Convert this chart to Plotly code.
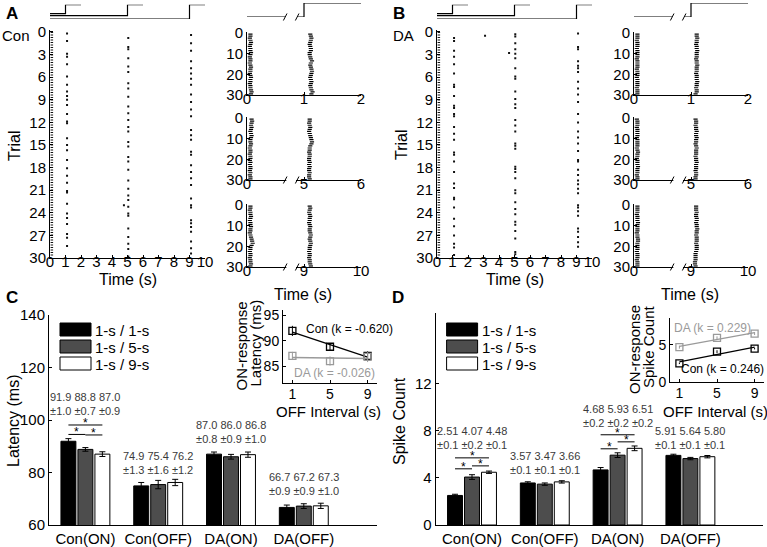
import numpy as np
import plotly.graph_objects as go

W, H = 767, 547
INK = "#000000"
DOT = "#111111"
DA_GRAY = "#9a9a9a"
TEXT_GRAY = "#3a3a3a"
BAR_COLORS = ["#000000", "#4d4d4d", "#ffffff"]
FONT = "Liberation Sans, Arial, sans-serif"

# ---------------- data ----------------
INTERVALS = [1, 5, 9]
N_TRIALS = 30
TRIALS = list(range(N_TRIALS))

# full-length rasters: time of the sparse ON columns and the trials they hit
MAIN_ON_T = [1.1, 5.05, 9.1]
MAIN_OFF_T = 0.12
CON_1S_TRIALS = [0.2, 1.2, 2.9, 3.3, 4.3, 5.9, 7.0, 7.9, 8.5, 9.0, 9.7, 10.9, 11.9, 12.1, 14.1,
                 15.0, 15.7, 17.0, 18.1, 19.1, 20.0, 21.1, 21.3, 22.8, 24.1, 24.7, 25.5, 26.8, 27.3, 28.4]
CON_5S_TRIALS = [0.8, 2.0, 2.3, 3.5, 4.6, 5.3, 6.8, 7.5, 8.6, 9.9, 10.8, 11.7, 12.6, 13.2, 14.6, 15.2,
                 16.6, 17.2, 18.3, 19.7, 20.8, 21.7, 22.3, 23.2, 24.1, 24.4, 26.1, 27.2, 28.1, 28.8, 29.8]
CON_9S_TRIALS = [0.4, 1.5, 2.5, 3.9, 4.8, 5.5, 6.2, 7.0, 8.3, 9.3, 10.3, 11.2, 13.0, 13.7, 14.3, 15.9,
                 16.3, 17.7, 18.6, 19.4, 20.3, 22.1, 23.0, 23.3, 25.0, 25.4, 25.9, 26.5, 27.8, 28.7, 29.4]
DA_1S_TRIALS = [0.8, 1.2, 2.5, 3.3, 4.3, 5.5, 7.0, 7.3, 8.5, 9.8, 10.1, 10.9, 11.2, 12.6, 13.5, 14.3,
                16.0, 16.3, 17.2, 18.6, 20.1, 20.7, 22.0, 22.2, 23.3, 24.8, 25.8, 27.0, 28.1, 28.6, 29.6]
DA_5S_TRIALS = [0.3, 0.6, 1.5, 2.3, 2.9, 3.5, 4.8, 5.9, 6.2, 7.9, 8.9, 9.6, 10.1, 11.7, 12.4, 13.2, 14.8,
                15.1, 15.5, 17.9, 18.2, 18.6, 19.4, 21.0, 21.4, 22.6, 23.5, 24.2, 25.2, 25.6, 26.4, 27.4,
                29.2, 29.5]
DA_9S_TRIALS = [0.2, 2.0, 2.3, 3.9, 4.5, 4.8, 5.3, 6.6, 7.5, 8.3, 9.3, 10.9, 12.0, 13.2, 14.0, 14.8,
                15.8, 17.0, 17.2, 18.3, 19.0, 19.7, 20.2, 20.8, 21.4, 23.0, 23.3, 23.8, 24.4, 26.1, 26.5,
                27.2, 27.9, 28.5]
CON_STRAY_T, CON_STRAY_TRIAL = [4.77], [23.0]
DA_STRAY_T, DA_STRAY_TRIAL = [3.1, 4.65], [0.5, 2.8]

# zoomed rasters (broken time axis 0..2): per-trial OFF and ON burst times
CON_OFF_1S = [0.06, 0.06, 0.05, 0.06, 0.07, 0.06, 0.05, 0.06, 0.06, 0.07, 0.06, 0.05, 0.06, 0.06, 0.05,
              0.06, 0.07, 0.06, 0.06, 0.05, 0.06, 0.07, 0.06, 0.06, 0.05, 0.06, 0.06, 0.07, 0.08, 0.07]
CON_ON_1S = [1.11, 1.12, 1.13, 1.12, 1.11, 1.10, 1.11, 1.12, 1.12, 1.10, 1.10, 1.11, 1.12, 1.14, 1.12,
             1.11, 1.12, 1.13, 1.14, 1.13, 1.12, 1.11, 1.12, 1.13, 1.12, 1.11, 1.12, 1.13, 1.15, 1.13]
CON_OFF_5S = [0.08, 0.09, 0.08, 0.07, 0.08, 0.07, 0.06, 0.07, 0.08, 0.07, 0.06, 0.06, 0.07, 0.06, 0.05,
              0.06, 0.06, 0.05, 0.06, 0.06, 0.05, 0.06, 0.05, 0.06, 0.06, 0.05, 0.06, 0.05, 0.06, 0.06]
CON_ON_5S = [1.10, 1.10, 1.09, 1.10, 1.11, 1.10, 1.09, 1.10, 1.11, 1.12, 1.13, 1.14, 1.13, 1.11, 1.10,
             1.10, 1.09, 1.10, 1.10, 1.09, 1.09, 1.10, 1.09, 1.10, 1.09, 1.09, 1.10, 1.09, 1.09, 1.10]
CON_OFF_9S = [0.06, 0.06, 0.05, 0.06, 0.06, 0.07, 0.06, 0.05, 0.06, 0.06, 0.07, 0.06, 0.06, 0.05, 0.06,
              0.07, 0.08, 0.09, 0.10, 0.08, 0.06, 0.06, 0.05, 0.06, 0.06, 0.05, 0.06, 0.06, 0.07, 0.06]
CON_ON_9S = [1.10, 1.11, 1.10, 1.09, 1.10, 1.11, 1.10, 1.10, 1.09, 1.10, 1.11, 1.10, 1.10, 1.11, 1.12,
             1.11, 1.10, 1.11, 1.12, 1.11, 1.10, 1.10, 1.09, 1.10, 1.10, 1.09, 1.10, 1.10, 1.11, 1.12]
DA_OFF_1S = [0.06, 0.06, 0.06, 0.05, 0.06, 0.06, 0.06, 0.05, 0.06, 0.06, 0.06, 0.06, 0.05, 0.06, 0.06,
             0.06, 0.06, 0.05, 0.06, 0.06, 0.06, 0.05, 0.06, 0.06, 0.06, 0.06, 0.05, 0.06, 0.06, 0.06]
DA_ON_1S = [1.10, 1.10, 1.11, 1.10, 1.10, 1.09, 1.10, 1.10, 1.11, 1.10, 1.10, 1.10, 1.09, 1.10, 1.10,
            1.11, 1.10, 1.10, 1.10, 1.09, 1.10, 1.10, 1.10, 1.11, 1.10, 1.10, 1.09, 1.10, 1.10, 1.08]
DA_OFF_5S = [0.05, 0.06, 0.06, 0.06, 0.05, 0.06, 0.06, 0.06, 0.06, 0.05, 0.06, 0.06, 0.06, 0.06, 0.05,
             0.06, 0.07, 0.06, 0.06, 0.05, 0.06, 0.06, 0.06, 0.07, 0.06, 0.06, 0.06, 0.05, 0.06, 0.06]
DA_ON_5S = [1.08, 1.09, 1.09, 1.08, 1.09, 1.09, 1.10, 1.09, 1.09, 1.10, 1.09, 1.09, 1.08, 1.09, 1.10,
            1.09, 1.09, 1.09, 1.08, 1.09, 1.09, 1.10, 1.09, 1.09, 1.09, 1.08, 1.09, 1.09, 1.08, 1.08]
DA_OFF_9S = [0.06, 0.06, 0.06, 0.06, 0.05, 0.06, 0.06, 0.06, 0.07, 0.06, 0.06, 0.06, 0.06, 0.05, 0.06,
             0.06, 0.07, 0.07, 0.06, 0.06, 0.06, 0.06, 0.05, 0.06, 0.06, 0.06, 0.05, 0.06, 0.06, 0.06]
DA_ON_9S = [1.09, 1.09, 1.09, 1.10, 1.09, 1.09, 1.10, 1.10, 1.09, 1.10, 1.10, 1.11, 1.10, 1.10, 1.09,
            1.10, 1.10, 1.10, 1.09, 1.10, 1.10, 1.10, 1.09, 1.08, 1.08, 1.08, 1.08, 1.07, 1.07, 1.08]
SMALL_TICKTEXT = [["0", "1", "2"], ["0", "5", "6"], ["0", "9", "10"]]

# bar charts
GROUPS = ["Con(ON)", "Con(OFF)", "DA(ON)", "DA(OFF)"]
SERIES = ["1-s / 1-s", "1-s / 5-s", "1-s / 9-s"]
LAT_1S = [91.9, 74.9, 87.0, 66.7]
LAT_5S = [88.8, 75.4, 86.0, 67.2]
LAT_9S = [87.0, 76.2, 86.8, 67.3]
LAT_ERR_1S = [1.0, 1.3, 0.8, 0.9]
LAT_ERR_5S = [0.7, 1.6, 0.9, 0.9]
LAT_ERR_9S = [0.9, 1.2, 1.0, 1.0]
CNT_1S = [2.51, 3.57, 4.68, 5.91]
CNT_5S = [4.07, 3.47, 5.93, 5.64]
CNT_9S = [4.48, 3.66, 6.51, 5.80]
CNT_ERR_1S = [0.1, 0.1, 0.2, 0.1]
CNT_ERR_5S = [0.2, 0.1, 0.2, 0.1]
CNT_ERR_9S = [0.1, 0.1, 0.2, 0.1]
# significance brackets: (group, bar a, bar b, height)
SIG_LAT = [(0, 0, 2, 98.1), (0, 0, 1, 94.5), (0, 1, 2, 94.3)]
SIG_CNT = [(0, 0, 2, 5.70), (0, 0, 1, 4.77), (0, 1, 2, 5.02),
           (2, 0, 2, 7.66), (2, 0, 1, 6.47), (2, 1, 2, 7.06)]
K_LAT = [-0.620, -0.026]   # Con, DA
K_CNT = [0.246, 0.229]

# ---------------- helpers ----------------
fig = go.Figure()
layout = {}
shapes = []
annots = []


def fx(p):
    return p / W


def fy(p):
    return 1 - p / H


def axes(n, xpx, ypx, xr, yr, xkw=None, ykw=None, size=15):
    s = "" if n == 1 else str(n)
    base = dict(showline=True, linecolor=INK, linewidth=1, ticks="inside", ticklen=3,
                tickcolor=INK, showgrid=False, zeroline=False,
                tickfont=dict(size=size, color=INK, family=FONT))
    xa = dict(base, domain=[fx(xpx[0]), fx(xpx[1])], range=xr, anchor="y" + s)
    ya = dict(base, domain=[fy(ypx[1]), fy(ypx[0])], range=yr, anchor="x" + s)
    xa.update(xkw or {})
    ya.update(ykw or {})
    layout["xaxis" + s] = xa
    layout["yaxis" + s] = ya
    return "x" + s, "y" + s


def text(x, y, t, size=15, color=INK, bold=False, angle=0, xanchor="center",
         xref="paper", yref="paper", yanchor="middle", **kw):
    if bold:
        t = "<b>" + t + "</b>"
    if xref == "paper":
        x = fx(x)
    if yref == "paper":
        y = fy(y)
    annots.append(dict(x=x, y=y, xref=xref, yref=yref, text=t, showarrow=False,
                       textangle=angle, xanchor=xanchor, yanchor=yanchor,
                       font=dict(size=size, color=color, family=FONT), **kw))


def line_px(x0, y0, x1, y1, color=INK, width=1):
    shapes.append(dict(type="line", xref="paper", yref="paper", x0=fx(x0), y0=fy(y0),
                       x1=fx(x1), y1=fy(y1), line=dict(color=color, width=width)))


def slash(xp, yp):
    line_px(xp - 1.8, yp + 3.5, xp + 1.8, yp - 3.5)


# ---------------- panels A / B ----------------
def raster_panel(dx, n0, letter, cond, main_trials, stray_t, stray_trial, small_off, small_on):
    # full raster
    xa, ya = axes(n0, (50 + dx, 205 + dx), (29.7, 258), [0, 10], [N_TRIALS, -0.3],
                  xkw=dict(tickvals=list(range(11)), ticklabelstandoff=-10),
                  ykw=dict(tickvals=list(range(0, 31, 3))))
    fig.add_trace(go.Scatter(x=[MAIN_OFF_T, MAIN_OFF_T], y=[0, N_TRIALS - 0.2], mode="lines",
                             line=dict(color=DOT, width=2.5, dash="1px,1.5px"),
                             xaxis=xa, yaxis=ya))
    for t, trials in zip(MAIN_ON_T, main_trials):
        fig.add_trace(go.Scatter(x=[t] * len(trials), y=trials, mode="markers",
                                 marker=dict(symbol="square", size=2, color=DOT, line_width=0),
                                 xaxis=xa, yaxis=ya))
    fig.add_trace(go.Scatter(x=stray_t, y=stray_trial, mode="markers",
                             marker=dict(symbol="square", size=2, color=DOT, line_width=0),
                             xaxis=xa, yaxis=ya))
    # stimulus traces over the full raster
    xs, ys = axes(n0 + 1, (50 + dx, 205 + dx), (4.7, 19), [0, 10], [0, 1],
                  xkw=dict(visible=False), ykw=dict(visible=False))
    for t, low in zip(INTERVALS, [0.37, 0.23, 0.0]):
        fig.add_trace(go.Scatter(x=[0, t, t, t + 1], y=[low, low, 1, 1], mode="lines",
                                 line=dict(color=INK, width=1.2), xaxis=xs, yaxis=ys))
    # zoomed rasters
    tops = [(32.4, 95), (117.4, 180), (204.4, 267)]
    for k in range(3):
        xa, ya = axes(n0 + 2 + k, (247 + dx, 361 + dx), tops[k], [0, 2], [N_TRIALS, -0.3],
                      xkw=dict(tickvals=[0, 1, 2], ticktext=SMALL_TICKTEXT[k], ticklabelstandoff=-10),
                      ykw=dict(tickvals=[0, 10, 20, 30]))
        y = [tr + 0.5 for tr in TRIALS]
        for xs_ in (small_off[k], small_on[k]):
            fig.add_trace(go.Scatter(x=xs_, y=y, mode="markers",
                                     marker=dict(symbol="line-ew", size=3,
                                                 line=dict(width=1.2, color=INK)),
                                     xaxis=xa, yaxis=ya))
        if k > 0:   # broken time axis
            ybase = tops[k][1]
            line_px(247 + dx + 0.69 * 57, ybase, 247 + dx + 0.86 * 57, ybase, color="#ffffff", width=3)
            slash(247 + dx + 0.67 * 57, ybase)
            slash(247 + dx + 0.88 * 57, ybase)
    # stimulus over zoomed rasters
    xs, ys = axes(n0 + 5, (247 + dx, 361 + dx), (3, 17), [0, 2], [0, 1],
                  xkw=dict(visible=False), ykw=dict(visible=False))
    fig.add_trace(go.Scatter(x=[0, 0.67, None, 0.88, 1, 1, 2], y=[0, 0, None, 0, 0, 1, 1],
                             mode="lines", line=dict(color=INK, width=1.2), xaxis=xs, yaxis=ys))
    slash(247 + dx + 0.67 * 57, 17)
    slash(247 + dx + 0.88 * 57, 17)

    text(12 + dx, 13, letter, size=17, bold=True)
    text(16 + dx, 35, cond, size=15)
    text(14 + dx, 145, "Trial", size=16, angle=-90)
    text(128 + dx, 279, "Time (s)", size=16)
    text(303 + dx, 294, "Time (s)", size=16)


raster_panel(0, 1, "A", "Con", [CON_1S_TRIALS, CON_5S_TRIALS, CON_9S_TRIALS],
             CON_STRAY_T, CON_STRAY_TRIAL, [CON_OFF_1S, CON_OFF_5S, CON_OFF_9S],
             [CON_ON_1S, CON_ON_5S, CON_ON_9S])
raster_panel(387, 7, "B", "DA", [DA_1S_TRIALS, DA_5S_TRIALS, DA_9S_TRIALS],
             DA_STRAY_T, DA_STRAY_TRIAL, [DA_OFF_1S, DA_OFF_5S, DA_OFF_9S],
             [DA_ON_1S, DA_ON_5S, DA_ON_9S])


# ---------------- panels C / D ----------------
OFFS = [-0.2333, 0.0, 0.2333]


def bar_panel(n, x0, ypx, yr, ytick, vals, errs, fmt, label_shift, sigs, ytitle, letter, dx):
    xa, ya = axes(n, (x0, x0 + 4.5 * 72.8), ypx, [-0.5, 4.0], yr,
                  xkw=dict(tickvals=[0, 1, 2, 3], ticktext=GROUPS, ticks=""),
                  ykw=dict(tickvals=ytick), size=15)
    for s in range(3):
        fig.add_trace(go.Bar(x=[0, 1, 2, 3], y=vals[s],
                             marker=dict(color=BAR_COLORS[s], line=dict(color=INK, width=1)),
                             error_y=dict(type="data", array=errs[s], color=INK, thickness=1, width=3),
                             xaxis=xa, yaxis=ya))
    for g in range(4):
        top = max(vals[s][g] + errs[s][g] for s in range(3))
        t1 = " ".join(fmt.format(vals[s][g]) for s in range(3))
        t2 = " ".join("±{:.1f}".format(errs[s][g]) for s in range(3))
        text(g, top, t1 + "<br>" + t2, size=11, color=TEXT_GRAY, xref=xa, yref=ya,
             yshift=label_shift[g])
    for g, a, b, h in sigs:
        shapes.append(dict(type="line", xref=xa, yref=ya, x0=g + OFFS[a], x1=g + OFFS[b],
                           y0=h, y1=h, line=dict(color=INK, width=1)))
        text(g + (OFFS[a] + OFFS[b]) / 2, h, "*", size=12, color="#000000", xref=xa, yref=ya,
             yanchor="bottom", yshift=-7)
    # legend
    for s in range(3):
        top = 323 + 17 * s
        shapes.append(dict(type="rect", xref="paper", yref="paper", x0=fx(x0 + 11), x1=fx(x0 + 42),
                           y0=fy(top + 13), y1=fy(top), fillcolor=BAR_COLORS[s],
                           line=dict(color=INK, width=1)))
        text(x0 + 44, top + 7, SERIES[s], size=15, xanchor="left")
    text(12 + dx, 298, letter, size=17, bold=True)
    text(13 + dx, ypx[1] - 104, ytitle, size=16, angle=-90)
    return xa, ya


bar_panel(13, 49, (315, 525), [60, 140], [60, 80, 100, 120, 140],
          [LAT_1S, LAT_5S, LAT_9S], [LAT_ERR_1S, LAT_ERR_5S, LAT_ERR_9S], "{:.1f}",
          [35, 16, 20, 19], SIG_LAT, "Latency (ms)", "C", 0)
bar_panel(15, 435.6, (313, 525), [0, 18], [0, 4, 8, 12],
          [CNT_1S, CNT_5S, CNT_9S], [CNT_ERR_1S, CNT_ERR_5S, CNT_ERR_9S], "{:.2f}",
          [33, 18, 30, 16], SIG_CNT, "Spike Count", "D", 386)


def inset(n, xpx, ypx, yr, ytick, vals, errs, ks, label_pos, ytitle, title_x):
    xa, ya = axes(n, xpx, ypx, [0, 10], yr,
                  xkw=dict(tickvals=INTERVALS, ticklabelstandoff=-2),
                  ykw=dict(tickvals=ytick), size=14)
    names = ["Con", "DA"]
    for i, (gi, color) in enumerate([(0, INK), (2, DA_GRAY)]):
        y = [v[gi] for v in vals]
        e = [v[gi] for v in errs]
        slope, icpt = np.polyfit(INTERVALS, y, 1)
        fig.add_trace(go.Scatter(x=[1, 9], y=[slope * 1 + icpt, slope * 9 + icpt], mode="lines",
                                 line=dict(color=color, width=1.3), xaxis=xa, yaxis=ya))
        fig.add_trace(go.Scatter(x=INTERVALS, y=y, mode="markers",
                                 marker=dict(symbol="square-open", size=7, color=color,
                                             line=dict(width=1.3, color=color)),
                                 error_y=dict(type="data", array=e, color=color, thickness=1, width=0),
                                 xaxis=xa, yaxis=ya))
        lx, ly = label_pos[i]
        text(lx, ly, "{} (k = {:.3f})".format(names[i], ks[i]), size=12, color=color,
             xref=xa, yref=ya, xanchor="left")
    cy = (ypx[0] + ypx[1]) / 2
    text(title_x[0], cy, "ON-response", size=15, angle=-90)
    text(title_x[1], cy - 3, ytitle, size=15, angle=-90)
    text((xpx[0] + xpx[1]) / 2 - 2, 411, "OFF Interval (s)", size=15)


inset(14, (283, 377), (310, 383), [81.7, 96], [85, 90, 95],
      [LAT_1S, LAT_5S, LAT_9S], [LAT_ERR_1S, LAT_ERR_5S, LAT_ERR_9S], K_LAT,
      [(2.2, 92.3), (1.0, 83.6)], "Latency (ms)", (241, 255))
inset(16, (670, 764), (318, 382), [0, 8.6], [0, 5],
      [CNT_1S, CNT_5S, CNT_9S], [CNT_ERR_1S, CNT_ERR_5S, CNT_ERR_9S], K_CNT,
      [(1.0, 1.7), (0.2, 7.3)], "Spike Count", (634, 648))

fig.update_layout(
    width=W, height=H, margin=dict(l=0, r=0, t=0, b=0, autoexpand=False),
    paper_bgcolor="#ffffff", plot_bgcolor="rgba(0,0,0,0)",
    font=dict(family=FONT, color=INK),
    showlegend=False, barmode="group", bargap=0.30, bargroupgap=0.12,
    shapes=shapes, annotations=annots, **layout,
)
fig.write_html("out.html", config={"displayModeBar": False},
               post_script="document.body.style.margin = '0px';")
